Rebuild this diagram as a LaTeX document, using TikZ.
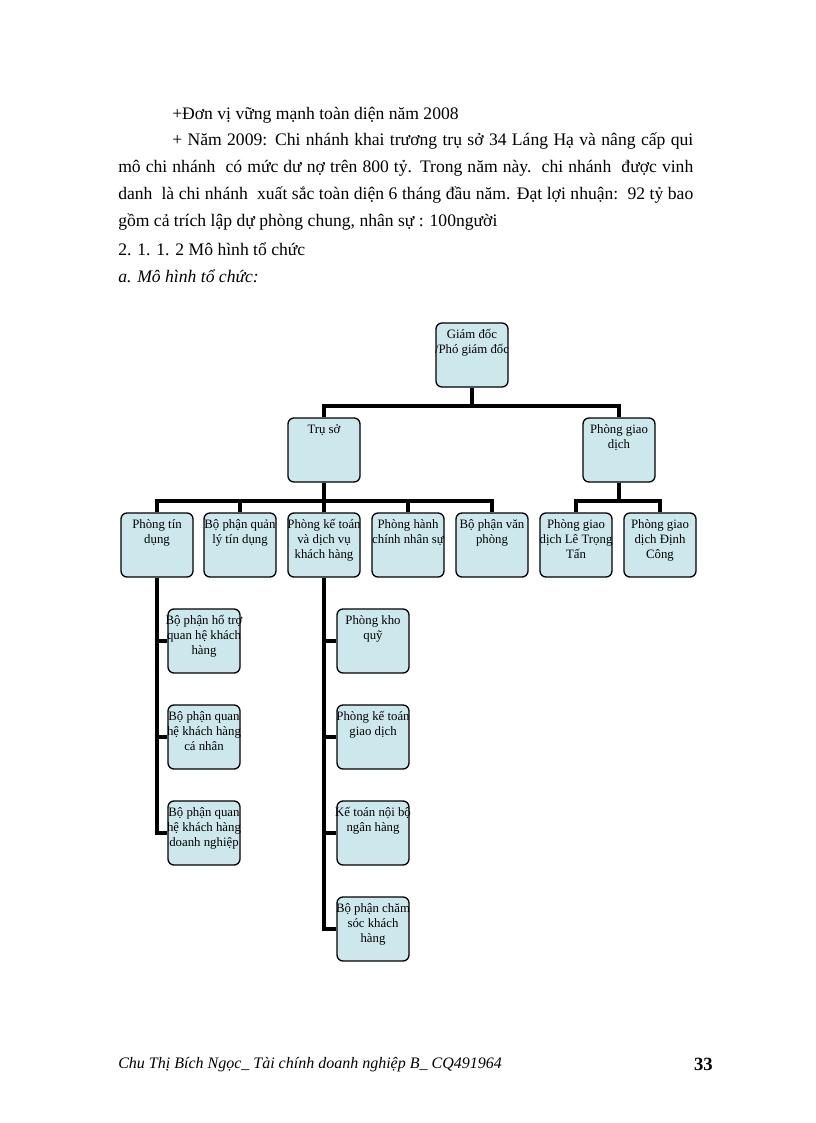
\documentclass[tikz,border=0pt]{standalone}
\usepackage{fontspec}
\setmainfont{Liberation Serif}
\usetikzlibrary{positioning}

\definecolor{boxblue}{RGB}{204,232,236}
\newlength{\pxu}
\setlength{\pxu}{0.75pt}

\tikzset{
  unit/.style={draw=black, line width=1pt, fill=boxblue, rounded corners=4.5pt,
    minimum width=72\pxu, minimum height=64\pxu, inner sep=0pt},
  link/.style={line width=2.7pt},
  bodytext/.style={anchor=base west, inner sep=0pt, font=\fontsize{13.2}{15}\selectfont},
}
\newcommand{\unittext}[1]{\makebox[70\pxu]{\parbox[c][60\pxu][t]{100\pxu}{\centering
  \fontsize{9.6}{11.3}\selectfont\rule{0pt}{10pt}#1\par}}}

\begin{document}
\begin{tikzpicture}[x=0.75pt, y=-0.75pt]
\useasboundingbox (0,0) rectangle (816,1123);

% page text
\path (172,120) node[bodytext] (l1) {+Đơn vị vững mạnh toàn diện năm 2008};
\path (172,146) node[bodytext] (l2) {\makebox[521\pxu][s]{+ Năm 2009: Chi nhánh khai trương trụ sở 34 Láng Hạ và nâng cấp qui}};
\path (118,173) node[bodytext] (l3) {\makebox[575\pxu][s]{mô chi nhánh\ \ có mức dư nợ trên 800 tỷ. Trong năm này.\ \ chi nhánh\ \ được vinh}};
\path (118,200) node[bodytext] (l4) {\makebox[575\pxu][s]{danh\ \ là chi nhánh\ \ xuất sắc toàn diện 6 tháng đầu năm. Đạt lợi nhuận:\ \ 92 tỷ bao}};
\path (118,227) node[bodytext] (l5) {gồm cả trích lập dự phòng chung, nhân sự : 100người};
\path (118,255) node[bodytext] (l6) {2. 1. 1. 2 Mô hình tổ chức};
\path (118,282) node[bodytext] (l7) {\itshape a. Mô hình tổ chức:};

% chart
\node[unit] (gd) at (472,355) {\unittext{Giám đốc\\/Phó giám đốc}};
\node[unit] (truso) at (324,450) {\unittext{Trụ sở}};
\node[unit] (pgd) at (619,450) {\unittext{Phòng giao\\dịch}};

\node[unit] (tindung) at (157,545) {\unittext{Phòng tín\\dụng}};
\node[unit] (quanly) at (240,545) {\unittext{Bộ phận quản\\lý tín dụng}};
\node[unit] (ketoan) at (324,545) {\unittext{Phòng kế toán\\và dịch vụ\\khách hàng}};
\node[unit] (hanhchinh) at (408,545) {\unittext{Phòng hành\\chính nhân sự}};
\node[unit] (vanphong) at (492,545) {\unittext{Bộ phận văn\\phòng}};
\node[unit] (letrongtan) at (576,545) {\unittext{Phòng giao\\dịch Lê Trọng\\Tấn}};
\node[unit] (dinhcong) at (660,545) {\unittext{Phòng giao\\dịch Định\\Công}};

\node[unit] (hotro) at (204,641) {\unittext{Bộ phận hổ trợ\\quan hệ khách\\hàng}};
\node[unit] (canhan) at (204,737) {\unittext{Bộ phận quan\\hệ khách hàng\\cá nhân}};
\node[unit] (doanhnghiep) at (204,833) {\unittext{Bộ phận quan\\hệ khách hàng\\doanh nghiệp}};

\node[unit] (khoquy) at (373,641) {\unittext{Phòng kho\\quỹ}};
\node[unit] (ktgiaodich) at (373,737) {\unittext{Phòng kế toán\\giao dịch}};
\node[unit] (noibo) at (373,833) {\unittext{Kế toán nội bộ\\ngân hàng}};
\node[unit] (chamsoc) at (373,929) {\unittext{Bộ phận chăm\\sóc khách\\hàng}};

\coordinate (bus1) at (472,406);
\coordinate (bus2) at (324,501);
\coordinate (bus3) at (619,501);

\draw[link] (gd.south) -- (bus1);
\draw[link] (truso.north) |- (bus1) -| (pgd.north);

\draw[link] (truso.south) -- (bus2);
\draw[link] (tindung.north) |- (bus2) -| (vanphong.north);
\draw[link] (quanly.north) -- (quanly.north |- bus2);
\draw[link] (ketoan.north) -- (bus2);
\draw[link] (hanhchinh.north) -- (hanhchinh.north |- bus2);

\draw[link] (pgd.south) -- (bus3);
\draw[link] (letrongtan.north) |- (bus3) -| (dinhcong.north);

\draw[link] (tindung.south) |- (doanhnghiep.west);
\draw[link] (hotro.west) -- (hotro.west -| tindung.south);
\draw[link] (canhan.west) -- (canhan.west -| tindung.south);

\draw[link] (ketoan.south) |- (chamsoc.west);
\draw[link] (khoquy.west) -- (khoquy.west -| ketoan.south);
\draw[link] (ktgiaodich.west) -- (ktgiaodich.west -| ketoan.south);
\draw[link] (noibo.west) -- (noibo.west -| ketoan.south);

% footer
\path (118,1068) node[bodytext, font=\fontsize{12}{14}\selectfont\itshape] (author) {Chu Thị Bích Ngọc\_ Tài chính doanh nghiệp B\_ CQ491964};
\path (713,1070) node[anchor=base east, inner sep=0pt, font=\fontsize{14}{16}\selectfont\bfseries] (pageno) {33};
\end{tikzpicture}
\end{document}
